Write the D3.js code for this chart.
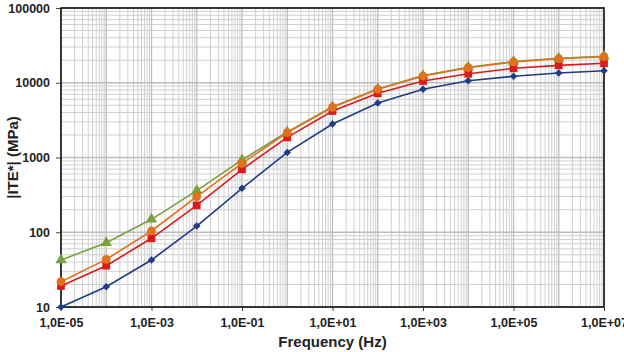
<!DOCTYPE html>
<html>
<head>
<meta charset="utf-8">
<script src="https://cdn.jsdelivr.net/npm/d3@7"></script>
<style>
  body { margin: 0; background: #fff; }
  svg text { font-family: "Liberation Sans", Arial, sans-serif; font-weight: bold; }
</style>
</head>
<body>
<div id="chart"></div>
<script>
// frequencies (Hz), one point per decade
var freqs = [1e-5, 1e-4, 1e-3, 1e-2, 1e-1, 1e0, 1e1, 1e2, 1e3, 1e4, 1e5, 1e6, 1e7];

// |E*| values (MPa)
var blueVals   = [10, 18.7, 42.5, 121, 387, 1170, 2800, 5360, 8170, 10660, 12190, 13500, 14500];
var redVals    = [19.1, 35.7, 83, 229, 695, 1860, 4190, 7220, 10550, 13200, 15600, 17100, 18200];
var orangeVals = [21.8, 43.4, 104, 299, 836, 2150, 4690, 8170, 12300, 15900, 18970, 21000, 22300];
var greenVals  = [42.5, 72.5, 149, 360, 927, 2200, 4760, 8250, 12450, 16100, 19200, 21300, 22600];

var xTicks = [1e-5, 1e-3, 1e-1, 1e1, 1e3, 1e5, 1e7];
var xTickLabels = ["1,0E-05", "1,0E-03", "1,0E-01", "1,0E+01", "1,0E+03", "1,0E+05", "1,0E+07"];
var yTicks = [10, 100, 1000, 10000, 100000];

var margin = {top: 8, right: 20, bottom: 45, left: 61},
    width = 624 - margin.left - margin.right,
    height = 352 - margin.top - margin.bottom;

var svg = d3.select("#chart")
  .append("svg")
    .attr("width", 624)
    .attr("height", 352)
  .append("g")
    .attr("transform", "translate(" + margin.left + "," + margin.top + ")");

var x = d3.scaleLog()
    .domain([1e-5, 1e7])
    .range([0, width]);

var y = d3.scaleLog()
    .domain([10, 100000])
    .range([height, 0]);

// minor + major grid lines
var xMinor = [], yMinor = [];
for (var e = -5; e < 7; e++) {
  for (var m = 2; m <= 9; m++) xMinor.push(m * Math.pow(10, e));
}
for (var e2 = 1; e2 < 5; e2++) {
  for (var m2 = 2; m2 <= 9; m2++) yMinor.push(m2 * Math.pow(10, e2));
}
var xMajor = d3.range(-5, 8).map(function(p) { return Math.pow(10, p); });

svg.append("g").selectAll("line")
  .data(xMinor)
  .enter().append("line")
    .attr("x1", function(d) { return x(d); })
    .attr("x2", function(d) { return x(d); })
    .attr("y1", 0).attr("y2", height)
    .attr("stroke", "#d0d0d0").attr("stroke-width", 1);

svg.append("g").selectAll("line")
  .data(yMinor)
  .enter().append("line")
    .attr("y1", function(d) { return y(d); })
    .attr("y2", function(d) { return y(d); })
    .attr("x1", 0).attr("x2", width)
    .attr("stroke", "#d0d0d0").attr("stroke-width", 1);

svg.append("g").selectAll("line")
  .data(xMajor)
  .enter().append("line")
    .attr("x1", function(d) { return x(d); })
    .attr("x2", function(d) { return x(d); })
    .attr("y1", 0).attr("y2", height)
    .attr("stroke", "#bdbdbd").attr("stroke-width", 1.3);

svg.append("g").selectAll("line")
  .data(yTicks)
  .enter().append("line")
    .attr("y1", function(d) { return y(d); })
    .attr("y2", function(d) { return y(d); })
    .attr("x1", 0).attr("x2", width)
    .attr("stroke", "#bdbdbd").attr("stroke-width", 1.3);

// axes
var xAxis = svg.append("g")
    .attr("transform", "translate(0," + height + ")")
    .call(d3.axisBottom(x).tickValues(xTicks)
      .tickFormat(function(d, i) { return xTickLabels[i]; })
      .tickSize(4).tickPadding(7));
xAxis.selectAll("text").style("font-size", "12.5px").attr("fill", "#222");

var yAxis = svg.append("g")
    .call(d3.axisLeft(y).tickValues(yTicks)
      .tickFormat(d3.format("d"))
      .tickSize(5).tickPadding(6));
yAxis.selectAll("text").style("font-size", "12.5px").attr("fill", "#222");

svg.selectAll(".domain").remove();
svg.selectAll(".tick line").attr("stroke", "#444");

// plot border
svg.append("rect")
    .attr("x", 0).attr("y", 0)
    .attr("width", width).attr("height", height)
    .attr("fill", "none")
    .attr("stroke", "#111")
    .attr("stroke-width", 1.6);

// series (green drawn first so orange sits on top of it)
var series = [
  {name: "green",  vals: greenVals,  color: "#77a03f", shape: d3.symbolTriangle, size: 55, rot: 0},
  {name: "blue",   vals: blueVals,   color: "#1f3b86", shape: d3.symbolSquare,   size: 28, rot: 45},
  {name: "red",    vals: redVals,    color: "#dd1a1a", shape: d3.symbolSquare,   size: 60, rot: 0},
  {name: "orange", vals: orangeVals, color: "#e0721e", shape: d3.symbolCircle,   size: 60, rot: 0}
];

var line = d3.line()
    .x(function(d) { return x(d.f); })
    .y(function(d) { return y(d.v); });

series.forEach(function(s) {
  var pts = freqs.map(function(f, i) { return {f: f, v: s.vals[i]}; });
  svg.append("path")
      .datum(pts)
      .attr("fill", "none")
      .attr("stroke", s.color)
      .attr("stroke-width", 1.6)
      .attr("d", line);
  svg.append("g").selectAll("path")
    .data(pts)
    .enter().append("path")
      .attr("transform", function(d) {
        return "translate(" + x(d.f) + "," + y(d.v) + ") rotate(" + s.rot + ")";
      })
      .attr("d", d3.symbol().type(s.shape).size(s.size))
      .attr("fill", s.color);
});

// axis titles
svg.append("text")
    .attr("x", width / 2)
    .attr("y", height + 40)
    .attr("text-anchor", "middle")
    .style("font-size", "15px")
    .attr("fill", "#222")
    .text("Frequency (Hz)");

svg.append("text")
    .attr("transform", "rotate(-90)")
    .attr("x", -(height / 2))
    .attr("y", -43)
    .attr("text-anchor", "middle")
    .style("font-size", "15px")
    .attr("fill", "#222")
    .text("|ITE*| (MPa)");
</script>
</body>
</html>
